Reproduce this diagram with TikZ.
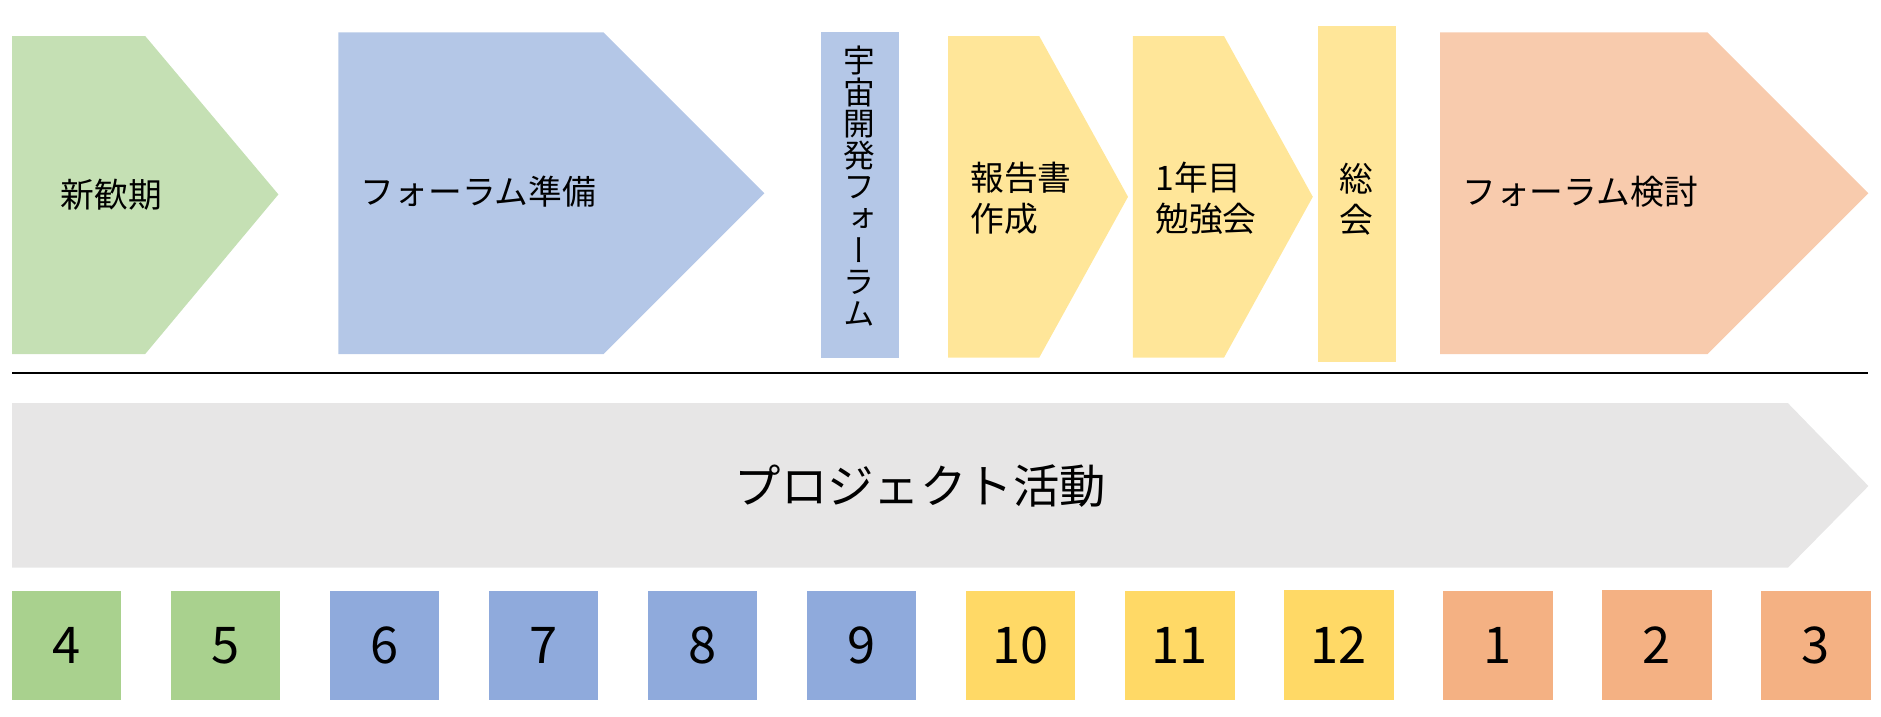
\documentclass[tikz,border=0pt]{standalone}
\usepackage{fontspec}
\setmainfont{Noto Sans CJK JP}
\newfontfamily\vertfont[RawFeature=+vert]{Noto Sans CJK JP}
\usepackage{tikz}
\usetikzlibrary{matrix}
\usetikzlibrary{positioning}

\definecolor{lgreen}{HTML}{C5E0B4}
\definecolor{lblue}{HTML}{B4C7E7}
\definecolor{lyellow}{HTML}{FFE699}
\definecolor{lorange}{HTML}{F8CBAD}
\definecolor{lgray}{HTML}{E7E6E6}
\definecolor{mgreen}{HTML}{A9D18E}
\definecolor{mblue}{HTML}{8FAADC}
\definecolor{myellow}{HTML}{FFD966}
\definecolor{morange}{HTML}{F4B183}

\begin{document}
\begin{tikzpicture}[x=0.01cm,y=-0.01cm,
				phase/.style={font=\fontsize{8}{9.6}\selectfont,inner sep=0pt,align=left},
				month/.style={minimum size=0.91cm,inner sep=0pt,outer sep=0pt,font=\fontsize{12}{12}\selectfont}]
				\useasboundingbox (0,0) rectangle (1567.5,596.7);
				
				% phases
				\fill[lgreen] (10,30) -- (121,30) -- (232,162) -- (121,295) -- (10,295) -- cycle;
				\fill[lblue] (282,27) -- (503,27) -- (637,161) -- (503,295) -- (282,295) -- cycle;
				\fill[lblue] (684,27) rectangle (749,298);
				\fill[lyellow] (790,30) -- (866,30) -- (940,164) -- (866,298) -- (790,298) -- cycle;
				\fill[lyellow] (944,30) -- (1020,30) -- (1094,164) -- (1020,298) -- (944,298) -- cycle;
				\fill[lyellow] (1098,22) rectangle (1163,302);
				\fill[lorange] (1200,27) -- (1423,27) -- (1557,161) -- (1423,295) -- (1200,295) -- cycle;
				
				\node[phase,anchor=west] (shinkan) at (50,162) {新歓期};
				\node[phase,anchor=west] (junbi) at (300,160) {フォーラム準備};
				\node[phase,align=center,font=\fontsize{7.5}{7.5}\vertfont] (forum) at (716.5,155)
					{宇\\宙\\開\\発\\フ\\ォ\\ー\\ラ\\ム};
				\node[phase,anchor=west] (houkoku) at (808,165) {報告書\\作成};
				\node[phase,anchor=west] (benkyou) at (962,165) {1年目\\勉強会};
				\node[phase,align=center] (soukai) at (1130.5,166) {総\\会};
				\node[phase,anchor=west] (kentou) at (1218,160) {フォーラム検討};
				
				\draw[line width=0.6pt] (10,311) -- (1557,311);
				
				% project
				\fill[lgray] (10,336) -- (1490,336) -- (1557,405) -- (1490,473) -- (10,473) -- cycle;
				\node[font=\fontsize{11}{11}\selectfont] (project) at (767,405) {プロジェクト活動};
				
				% months
				\matrix (m) [matrix of nodes, column sep=0.4145cm, inner sep=0pt, outer sep=0pt,
				nodes={month}, anchor=north west] at (10,492)
				{
					|[fill=mgreen]| 4 & |[fill=mgreen]| 5 & |[fill=mblue]| 6 & |[fill=mblue]| 7 & |[fill=mblue]| 8 & |[fill=mblue]| 9 & |[fill=myellow]| 10 & |[fill=myellow]| 11 & |[fill=myellow]| 12 & |[fill=morange]| 1 & |[fill=morange]| 2 & |[fill=morange]| 3 \\
				};
\end{tikzpicture}
\end{document}
